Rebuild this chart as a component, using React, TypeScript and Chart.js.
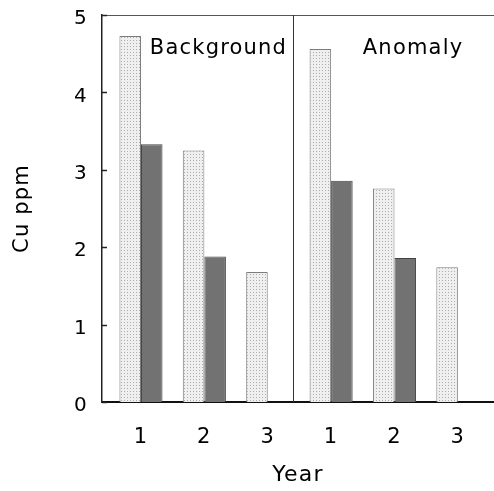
import React, { useEffect, useRef } from 'react';
import { Chart, registerables } from 'chart.js';

Chart.register(...registerables);

// ---- data ----
const categories = ['1', '2', '3', '1', '2', '3'];
const stippledSeries = [4.73, 3.25, 1.68, 4.56, 2.76, 1.74];
const solidSeries: (number | null)[] = [3.33, 1.88, null, 2.86, 1.86, null];
const yTickValues = [0, 1, 2, 3, 4, 5];
const groupLabels = ['Background', 'Anomaly'];

const FONT = '"DejaVu Sans", "Liberation Sans", sans-serif';

function makeStipple(): CanvasPattern | string {
  const c = document.createElement('canvas');
  c.width = 3;
  c.height = 3;
  const g = c.getContext('2d');
  if (!g) return '#e6e6e6';
  g.fillStyle = '#efefef';
  g.fillRect(0, 0, 3, 3);
  g.fillStyle = '#adadad';
  g.fillRect(1, 1, 1, 1);
  return g.createPattern(c, 'repeat') || '#e6e6e6';
}

const decorOptions = {
  dividerAt: 3.4,
  labelX: [1.14, 4.5],
  labelY: 4.5,
};

const decorPlugin = {
  id: 'decor',
  beforeDraw(chart: any) {
    chart.ctx.letterSpacing = '1.2px';
  },
  afterDraw(chart: any) {
    const { ctx, chartArea, scales } = chart;
    const x = scales.x;
    const y = scales.y;
    ctx.save();
    // top frame line
    ctx.strokeStyle = '#555';
    ctx.lineWidth = 1;
    ctx.beginPath();
    ctx.moveTo(chartArea.left, chartArea.top + 0.5);
    ctx.lineTo(chartArea.right, chartArea.top + 0.5);
    ctx.stroke();
    // divider between the two groups
    const dx = Math.round(x.getPixelForValue(decorOptions.dividerAt)) + 0.5;
    ctx.strokeStyle = '#333';
    ctx.beginPath();
    ctx.moveTo(dx, chartArea.top);
    ctx.lineTo(dx, chartArea.bottom);
    ctx.stroke();
    // inward tick marks on y axis
    ctx.strokeStyle = '#222';
    ctx.lineWidth = 1.5;
    y.ticks.forEach((t: any) => {
      const py = Math.round(y.getPixelForValue(t.value)) + 0.5;
      ctx.beginPath();
      ctx.moveTo(chartArea.left, py);
      ctx.lineTo(chartArea.left + 5, py);
      ctx.stroke();
    });
    // group labels
    ctx.font = `21px ${FONT}`;
    ctx.fillStyle = '#000';
    ctx.textAlign = 'left';
    ctx.textBaseline = 'alphabetic';
    groupLabels.forEach((s, i) => {
      ctx.fillText(s, x.getPixelForValue(decorOptions.labelX[i]), y.getPixelForValue(decorOptions.labelY));
    });
    ctx.restore();
  },
};

export default function App() {
  const ref = useRef<HTMLCanvasElement>(null);

  useEffect(() => {
    if (!ref.current) return;
    const stipple = makeStipple();
    const chart = new Chart(ref.current, {
      type: 'bar',
      data: {
        datasets: [
          {
            label: 'stippled',
            data: stippledSeries.map((v, i) => ({ x: i + 1, y: v })),
            backgroundColor: stipple as any,
            borderColor: '#7c7c7c',
            borderWidth: 1,
          },
          {
            label: 'solid',
            data: solidSeries.map((v, i) => ({ x: i + 1, y: v })) as any,
            backgroundColor: '#727272',
            borderColor: '#444',
            borderWidth: 1,
          },
        ],
      },
      options: {
        responsive: false,
        animation: false,
        layout: { padding: { top: 15, right: 0, bottom: 0, left: 0 } },
        plugins: { legend: { display: false }, tooltip: { enabled: false } },
        datasets: { bar: { categoryPercentage: 0.68, barPercentage: 1 } },
        scales: {
          x: {
            type: 'linear',
            min: 0.385,
            max: 6.57,
            offset: false,
            grid: { display: false, drawTicks: false },
            border: { display: true, color: '#111', width: 2 },
            afterBuildTicks: (s: any) => {
              s.ticks = categories.map((_, i) => ({ value: i + 1 }));
            },
            ticks: {
              callback: (v: any) => categories[Number(v) - 1] ?? '',
              font: { family: FONT, size: 21 },
              color: '#000',
              padding: 23,
              maxRotation: 0,
              autoSkip: false,
            },
            title: {
              display: true,
              text: 'Year',
              font: { family: FONT, size: 22 },
              color: '#000',
              padding: { top: 0, bottom: 3 },
            },
            afterFit: (s: any) => {
              s.height = 89;
              s.paddingLeft = 0;
              s.paddingRight = 0;
            },
          },
          y: {
            min: 0,
            max: 5,
            grid: { display: false, drawTicks: false },
            border: { display: true, color: '#222', width: 1.5 },
            afterBuildTicks: (s: any) => {
              s.ticks = yTickValues.map((v) => ({ value: v }));
            },
            ticks: {
              font: { family: FONT, size: 20 },
              color: '#000',
              padding: 14,
              labelOffset: 4,
            },
            title: {
              display: true,
              text: 'Cu ppm',
              font: { family: FONT, size: 21 },
              color: '#000',
              padding: { top: 10, bottom: 0 },
            },
            afterFit: (s: any) => {
              s.width = 102;
              s.paddingTop = 0;
              s.paddingBottom = 0;
            },
          },
        },
      } as any,
      plugins: [decorPlugin],
    });
    return () => chart.destroy();
  }, []);

  return (
    <div style={{ position: 'absolute', left: 0, top: 0, width: 494, height: 491, background: '#fff' }}>
      <canvas ref={ref} width={494} height={491} style={{ display: 'block' }} />
    </div>
  );
}
